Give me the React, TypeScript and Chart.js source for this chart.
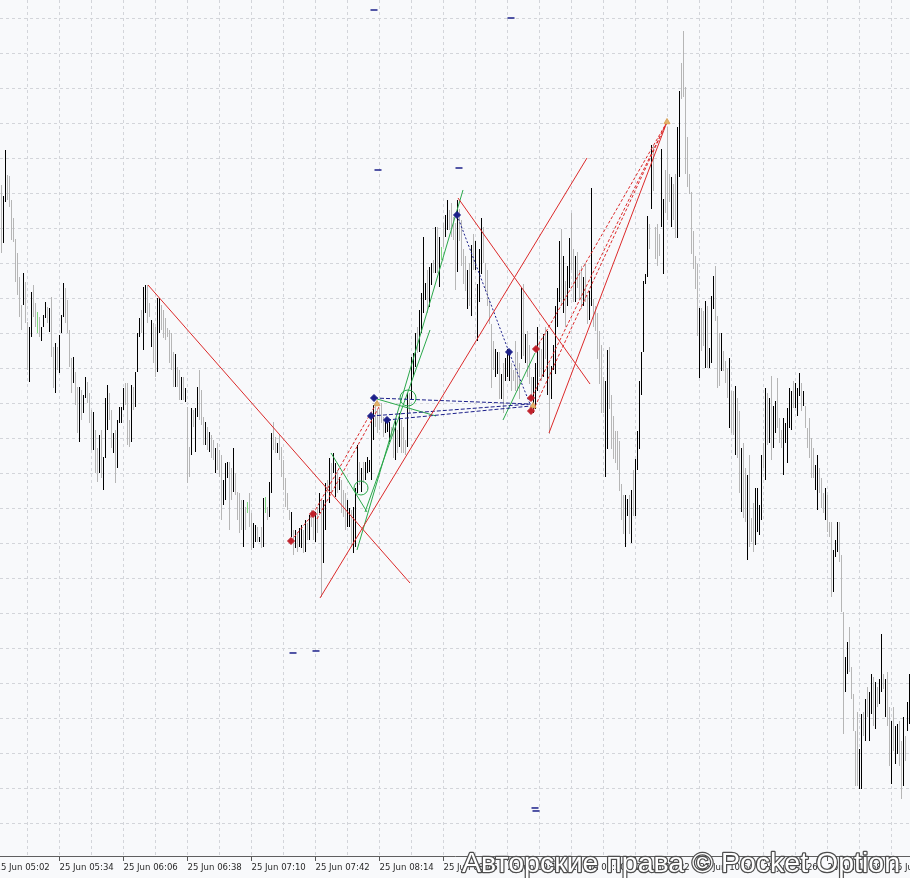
import { useEffect, useRef } from "react";
import { Chart, registerables } from "chart.js";

Chart.register(...registerables);

// x axis: minutes since 25 Jun 05:02, one bar per minute
const timeLabels = [
  "25 Jun 05:02", "25 Jun 05:34", "25 Jun 06:06", "25 Jun 06:38", "25 Jun 07:10",
  "25 Jun 07:42", "25 Jun 08:14", "25 Jun 08:46", "25 Jun 09:18", "25 Jun 09:50",
  "25 Jun 10:22", "25 Jun 10:54", "25 Jun 11:26", "25 Jun 11:58", "25 Jun 12:30",
];
const labelEveryMinutes = 32;
const gridEveryMinutes = 16;
const firstBarMinute = 3;

// bar highs / lows (points)
const barHigh = [
  815,804,850,825,824,800,782,761,747,723, 695,727,718,678,673,708,715,697,688,683,
  673,685,698,693,692,703,653,657,653,665, 685,717,712,700,670,642,643,628,613,613,
  610,605,623,618,607,590,588,570,552,565, 570,543,602,615,607,590,567,570,580,593,
  593,612,617,617,580,615,613,628,667,682, 690,713,715,715,697,680,677,673,702,702,
  695,690,682,672,670,667,648,646,633,630, 623,623,612,593,553,592,590,592,613,630,
  610,583,578,573,568,565,560,552,557,550, 545,520,537,538,
  538,532,552,527,508,507,500,500,493,498, 507,487,477,475,473,463,473,502,503,493,
  518,567,578,563,557,565,553,540,522,507, 490,488,470,470,468,472,475,470,480,477,
  485,490,487,488,493,507,500,500,517,520, 542,537,547,537,530,523,520,510,507,500,
  492,490,493,512,555,538,532,538,538,543, 540,583,595,598,590,592,597,583,580,580,
  578,573,573,580,570,587,580,573,560,607, 607,643,647,667,673,690,707,763,717,730,
  733,737,740,773,773,763,753,777,785,800, 790,797,783,777,
  800,791,780,751,744,730,737,755,766,759, 716,751,782,773,737,730,701,676,659,651,
  648,648,626,637,642,651,648,637,630,659, 648,637,712,716,666,669,655,623,623,637,
  673,659,651,666,673,669,637,634,655,694, 712,759,771,744,719,734,762,787,751,744,
  748,730,734,723,737,705,709,812,701,694, 687,669,655,623,619,650,653,605,584,569,
  569,559,516,505,505,501,505,510,530,541, 569,619,648,719,726,784,776,855,855,773,
  776,766,851,801,830,873,826,823,816,826, 873,909,937,969,
  913,863,826,808,769,744,736,692,692,689, 699,694,652,704,724,734,684,667,667,649,
  639,632,642,609,609,614,602,589,552,557, 532,525,545,482,497,512,512,495,545,557,
  612,607,602,624,594,599,622,582,570,582, 577,592,612,609,619,617,612,627,617,609,
  594,572,582,562,552,535,545,532,522,507, 512,505,478,478,450,460,478,478,445,388,
  343,358,373,333,306,269,288,251,286,288, 301,313,308,326,323,318,313,321,366,326,
  321,328,293,279,293,274,276,279,259,283, 264,298,326,
];
const barLow = [
  747,757,798,800,793,760,758,718,705,683, 670,695,677,630,618,663,683,673,667,663,
  659,673,682,677,668,643,612,607,630,627, 667,683,677,667,633,607,617,595,567,558,
  580,587,602,597,577,550,550,527,518,527, 522,510,542,570,580,552,547,517,532,577,
  577,590,595,555,553,558,590,593,628,663, 667,650,687,677,683,653,637,623,628,667,
  670,662,660,663,637,630,613,613,613,600, 600,600,598,517,523,545,573,548,583,580,
  575,555,555,550,548,542,540,527,530,523, 480,495,500,522,
  470,500,508,505,480,467,470,453,470,487, 473,450,452,458,458,458,452,453,487,480,
  483,507,550,547,547,540,523,510,493,490, 480,463,445,452,448,453,452,447,448,460,
  460,473,460,458,467,487,403,437,470,507, 497,507,527,503,507,510,487,483,470,473,
  473,453,447,453,507,515,508,517,520,527, 528,520,560,573,567,570,577,563,567,568,
  558,563,542,540,547,553,547,547,545,553, 587,600,623,633,647,648,667,687,700,687,
  693,715,727,727,727,713,740,753,763,770, 770,763,760,710,
  728,759,734,716,709,691,694,684,730,730, 659,698,726,737,709,694,676,612,630,623,
  626,601,601,587,619,623,619,609,619,609, 609,601,641,644,637,623,616,601,587,591,
  609,623,619,623,641,605,566,601,630,626, 673,698,694,687,673,694,712,730,698,698,
  712,701,691,694,698,676,680,694,673,669, 641,616,587,587,523,551,591,551,541,537,
  530,509,480,466,453,484,466,457,484,484, 530,551,605,648,716,723,751,791,809,741,
  734,744,773,726,787,780,798,773,780,762, 762,823,901,903,
  826,813,806,746,731,711,664,622,649,654, 632,632,632,637,691,679,612,614,629,629,
  617,602,572,567,565,545,542,507,488,482, 478,440,453,458,448,455,468,465,480,532,
  520,555,557,540,552,567,572,557,552,525, 557,537,572,570,592,592,584,604,589,594,
  572,552,542,522,522,510,490,507,492,487, 480,468,463,403,408,443,448,438,388,266,
  308,326,328,301,269,214,214,211,211,264, 259,283,259,286,274,271,293,296,308,311,
  283,274,234,216,249,236,246,234,201,214, 239,269,276,
];
// b = black bar, g = grey bar, n = green bar
const barTone = (
  "gbbggggggg" + "gbggbbggng" + "bbbgbggbgb" + "bbggggbggb" + "gbbgggbggb" + "gbbbggbgbb" +
  "bbgggbgbbb" + "gbbggbggbb" + "gggggggbgg" + "bgbggbgbbg" + "ggbgbggbgg" + "gbbb" +
  "ggbggggbgn" + "ggbbgbgbng" + "bbggbggggg" + "gbgbgbbgbg" + "bggbgbgbbg" + "bgbbgbgggb" +
  "bgbbbgbgbb" + "bbbgggggbb" + "bggbgbgggb" + "gbbbgbbbbg" + "bbgbgbngbb" + "gggg" +
  "bggggbgbgb" + "bbbggggggb" + "bgbgbbbggg" + "ggbgbgggbb" + "bggbgbgbbb" + "bbgbgbbggb" +
  "gggbggbbgg" + "ggggbbgggg" + "ggggbbgbgb" + "bbbbbbgbgg" + "ggbbgggbgg" + "bbgg" +
  "gggggggbgg" + "bgbbbgggbg" + "ggbggbggbg" + "gbgggbbbbg" + "bgbgbbgggb" + "bbbbgbbbgb" +
  "gggggbbggg" + "bgggbbbggg" + "bbgggggbbg" + "bgbbgbgbbg" + "bggbgbbggb" + "gbb"
).split("");

// drawn objects: [minute1, price1, minute2, price2]
const redSolidLines = [
  [76.25, 715, 207.25, 417],
  [162.25, 402, 295.75, 842],
  [231.25, 802, 297.25, 616],
  [276.75, 567, 335.75, 878],
];
const redDashedLines = [
  [147.75, 459, 158.75, 486],
  [158.75, 486, 190.25, 596],
  [160.75, 481, 191.75, 593],
  [270.25, 651, 335.75, 878],
  [267.75, 601, 335.75, 878],
  [268.75, 589, 335.75, 878],
];
const blueDashedLines = [
  [189.25, 602, 267.25, 596],
  [187.75, 584, 267.75, 596],
  [195.75, 580, 267.75, 594],
];
const blueDottedPath = [[230.75, 785], [256.75, 648], [267.25, 596]];
const greenLines = [
  [180.75, 450, 233.75, 810],
  [184.75, 488, 217.25, 670],
  [167.75, 547, 185.75, 488],
  [190.75, 601, 220.25, 584],
  [253.75, 580, 269.75, 647],
];
const greenCircles = [[182.75, 512, 7], [206.25, 602, 8]];
const redMarks = [[147.75, 459], [158.75, 486], [270.25, 651], [267.75, 602], [267.75, 589]];
const blueMarks = [[189.25, 602], [187.75, 584], [195.75, 580], [230.75, 785], [256.75, 648]];
const orangeMarks = [[190.75, 596], [268.75, 594], [335.75, 878]];
const navyDashes = [
  [189.25, 990], [257.75, 982], [191.25, 830], [231.75, 832],
  [148.75, 347], [160.25, 349], [269.75, 192], [270.25, 189],
];
const priceGridTop = 981;
const priceGridStep = 35;
const priceMin = 143;
const priceMax = 1000;
const watermarkText = "Авторские права © Pocket Option";

const BG = "#f8f9fb";
const GRID = "#d3d5da";
const RED = "#dc2a2a";
const NAVY = "#1b1f8a";
const GREEN = "#2aa84a";

export default function App() {
  const ref = useRef<HTMLCanvasElement>(null);

  useEffect(() => {
    document.body.style.margin = "0";
    const canvas = ref.current;
    if (!canvas) return;

    const toneColor: Record<string, string> = { b: "#000000", g: "#b6b6b6", n: "#7fd67f" };
    const bars = barHigh.map((h, i) => ({ x: firstBarMinute + i, y: [barLow[i], h] }));
    const barColors = barHigh.map((_, i) => toneColor[barTone[i]] || "#b6b6b6");

    const gridMinutes: number[] = [];
    for (let m = 0; m <= timeLabels.length * labelEveryMinutes; m += gridEveryMinutes) gridMinutes.push(m);
    const priceGrid: number[] = [];
    for (let v = priceGridTop; v > priceMin; v -= priceGridStep) priceGrid.push(v);

    const seg = (s: number[], color: string, dash: number[]) => ({
      type: "line",
      data: [{ x: s[0], y: s[1] }, { x: s[2], y: s[3] }],
      borderColor: color,
      borderWidth: 1,
      borderDash: dash,
      pointRadius: 0,
      fill: false,
      tension: 0,
      order: 1,
    });
    const marks = (pts: number[][], style: string, color: string, radius: number, fillColor: string, bw = 1) => ({
      type: "line",
      showLine: false,
      data: pts.map((p) => ({ x: p[0], y: p[1] })),
      pointStyle: style,
      pointRadius: radius,
      pointBorderColor: color,
      pointBackgroundColor: fillColor,
      pointBorderWidth: bw,
      order: 0,
    });

    const datasets: any[] = [
      {
        type: "bar",
        data: bars,
        backgroundColor: barColors,
        borderWidth: 0,
        barThickness: 1,
        inflateAmount: 0,
        grouped: false,
        order: 5,
      },
      ...redSolidLines.map((s) => seg(s, RED, [])),
      ...redDashedLines.map((s) => seg(s, RED, [3, 2])),
      ...blueDashedLines.map((s) => seg(s, NAVY, [4, 2])),
      {
        type: "line",
        data: blueDottedPath.map((p) => ({ x: p[0], y: p[1] })),
        borderColor: NAVY,
        borderWidth: 1,
        borderDash: [2, 2],
        pointRadius: 0,
        fill: false,
        tension: 0,
        order: 1,
      },
      ...greenLines.map((s) => seg(s, GREEN, [])),
      {
        type: "line",
        showLine: false,
        data: greenCircles.map((c) => ({ x: c[0], y: c[1] })),
        pointStyle: "circle",
        pointRadius: greenCircles.map((c) => c[2]),
        pointBorderColor: GREEN,
        pointBackgroundColor: "rgba(0,0,0,0)",
        pointBorderWidth: 1,
        order: 0,
      },
      marks(redMarks, "rectRot", "#c0202a", 3.5, "#c0202a"),
      marks(blueMarks, "rectRot", NAVY, 3.5, NAVY),
      marks(orangeMarks, "triangle", "#d9a45a", 3.5, "#e2b26a"),
      marks(navyDashes, "line", NAVY, 3.5, NAVY, 1.5),
    ];

    const bgPlugin = {
      id: "bgFill",
      beforeDraw(c: any) {
        const { ctx, width, height } = c;
        ctx.save();
        ctx.fillStyle = BG;
        ctx.fillRect(0, 0, width, height);
        ctx.restore();
      },
    };
    const watermarkPlugin = {
      id: "watermark",
      afterDraw(c: any) {
        const ctx = c.ctx;
        ctx.save();
        ctx.font = '28.5px "Liberation Sans", Arial, sans-serif';
        ctx.textBaseline = "alphabetic";
        ctx.textAlign = "right";
        ctx.lineJoin = "round";
        ctx.lineWidth = 2.5;
        ctx.strokeStyle = "#4d4d4d";
        ctx.strokeText(watermarkText, 900, 872);
        ctx.fillStyle = "#ffffff";
        ctx.fillText(watermarkText, 900, 872);
        ctx.restore();
      },
    };

    const chart = new Chart(canvas, {
      type: "bar",
      data: { datasets },
      options: {
        responsive: false,
        animation: false,
        devicePixelRatio: 1,
        events: [],
        layout: { autoPadding: false, padding: { left: 0, right: 0, top: 0, bottom: 4 } },
        plugins: { legend: { display: false }, tooltip: { enabled: false }, title: { display: false } },
        scales: {
          x: {
            type: "linear",
            min: 2.25,
            max: 457.25,
            offset: false,
            afterBuildTicks: (s: any) => {
              s.ticks = gridMinutes.map((v) => ({ value: v }));
            },
            afterFit: (s: any) => {
              s.paddingLeft = 0;
              s.paddingRight = 0;
            },
            ticks: {
              autoSkip: false,
              maxRotation: 0,
              minRotation: 0,
              align: "start",
              padding: 1,
              color: "#2a2a2a",
              font: { family: '"Liberation Sans Narrow", "DejaVu Sans Condensed", "Liberation Sans", sans-serif', size: 9.5, lineHeight: 1.16 },
              callback: (v: any) => (v % labelEveryMinutes === 0 ? timeLabels[v / labelEveryMinutes] ?? "" : ""),
            },
            grid: {
              color: GRID,
              lineWidth: 1,
              drawTicks: true,
              tickLength: 4,
              offset: false,
              tickColor: (c: any) => (c.tick && c.tick.value % labelEveryMinutes === 0 ? "#555555" : "rgba(0,0,0,0)"),
            },
            border: { display: true, color: "#5f5f5f", width: 1, dash: [3, 3] },
          },
          y: {
            type: "linear",
            position: "right",
            min: priceMin,
            max: priceMax,
            afterBuildTicks: (s: any) => {
              s.ticks = priceGrid.map((v) => ({ value: v }));
            },
            ticks: { display: false },
            grid: { color: GRID, lineWidth: 1, drawTicks: false },
            border: { display: false, dash: [3, 3] },
          },
        },
      } as any,
      plugins: [bgPlugin, watermarkPlugin],
    } as any);

    return () => chart.destroy();
  }, []);

  return (
    <div style={{ position: "absolute", left: 0, top: 0, width: 910, height: 878 }}>
      <canvas ref={ref} width={910} height={878} style={{ display: "block" }} />
    </div>
  );
}
